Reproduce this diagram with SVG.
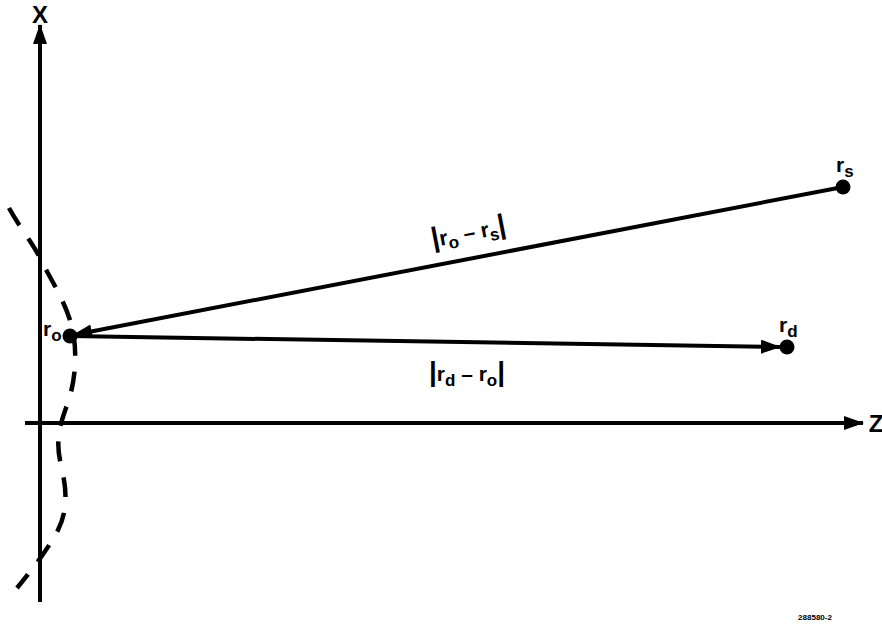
<svg xmlns="http://www.w3.org/2000/svg" width="882" height="628" viewBox="0 0 882 628">
<style>
.ln{stroke:#000;stroke-width:4;fill:none}
.dash{stroke:#000;stroke-width:4.5;fill:none;stroke-dasharray:20 16}
.t{font-family:"Liberation Sans",Arial,sans-serif;font-weight:bold;fill:#000}
</style>
<defs>
<marker id="ah" markerWidth="20" markerHeight="14" refX="19" refY="7" orient="auto" markerUnits="userSpaceOnUse">
<path d="M0,0 L20,7 L0,14 Z" fill="#000"/>
</marker>
</defs>
<rect width="882" height="628" fill="#fff"/>
<g id="connectors">
<line id="x-axis" class="ln" x1="40" y1="602" x2="40" y2="25" marker-end="url(#ah)"/>
<line id="z-axis" class="ln" x1="25" y1="423" x2="863" y2="423" marker-end="url(#ah)"/>
<line id="rs-ro" class="ln" x1="843" y1="187" x2="73" y2="335" marker-end="url(#ah)"/>
<line id="ro-rd" class="ln" x1="70" y1="336" x2="780" y2="347" marker-end="url(#ah)"/>
<path id="surface" class="dash" d="M9,208 C20,228 32,242 40,258 C52,282 62,296 70,320 C78,345 77,380 66,408 C60,425 55,440 61,465 C67,490 68,510 58,530 C50,545 40,560 17,588"/>
</g>
<g id="axis-labels">
<text class="t" x="40" y="23" font-size="24" text-anchor="middle">X</text>
<text class="t" x="876" y="432" font-size="24" text-anchor="middle">Z</text>
</g>
<g id="node-ro">
<circle cx="70" cy="336" r="7.5" fill="#000"/>
<text class="t" x="43" y="336" font-size="21">r<tspan font-size="17" dy="5">o</tspan></text>
</g>
<g id="node-rs">
<circle cx="843" cy="187" r="7.5" fill="#000"/>
<text class="t" x="836" y="172" font-size="21">r<tspan font-size="17" dy="5">s</tspan></text>
</g>
<g id="node-rd">
<circle cx="787" cy="347" r="7.5" fill="#000"/>
<text class="t" x="779" y="332" font-size="21">r<tspan font-size="17" dy="5">d</tspan></text>
</g>
<g id="label-ro-rs" transform="translate(470,240) rotate(-11)">
<text class="t" x="0" y="0" font-size="21" text-anchor="middle"><tspan font-size="28">|</tspan>r<tspan font-size="17" dy="5">o</tspan><tspan dy="-5"> – r</tspan><tspan font-size="17" dy="5">s</tspan><tspan font-size="28" dy="-5">|</tspan></text>
</g>
<g id="label-rd-ro">
<text class="t" x="467" y="381" font-size="21" text-anchor="middle"><tspan font-size="28">|</tspan>r<tspan font-size="17" dy="5">d</tspan><tspan dy="-5"> – r</tspan><tspan font-size="17" dy="5">o</tspan><tspan font-size="28" dy="-5">|</tspan></text>
</g>
<text class="t" x="815" y="620" font-size="8" text-anchor="middle">288580-2</text>
</svg>
